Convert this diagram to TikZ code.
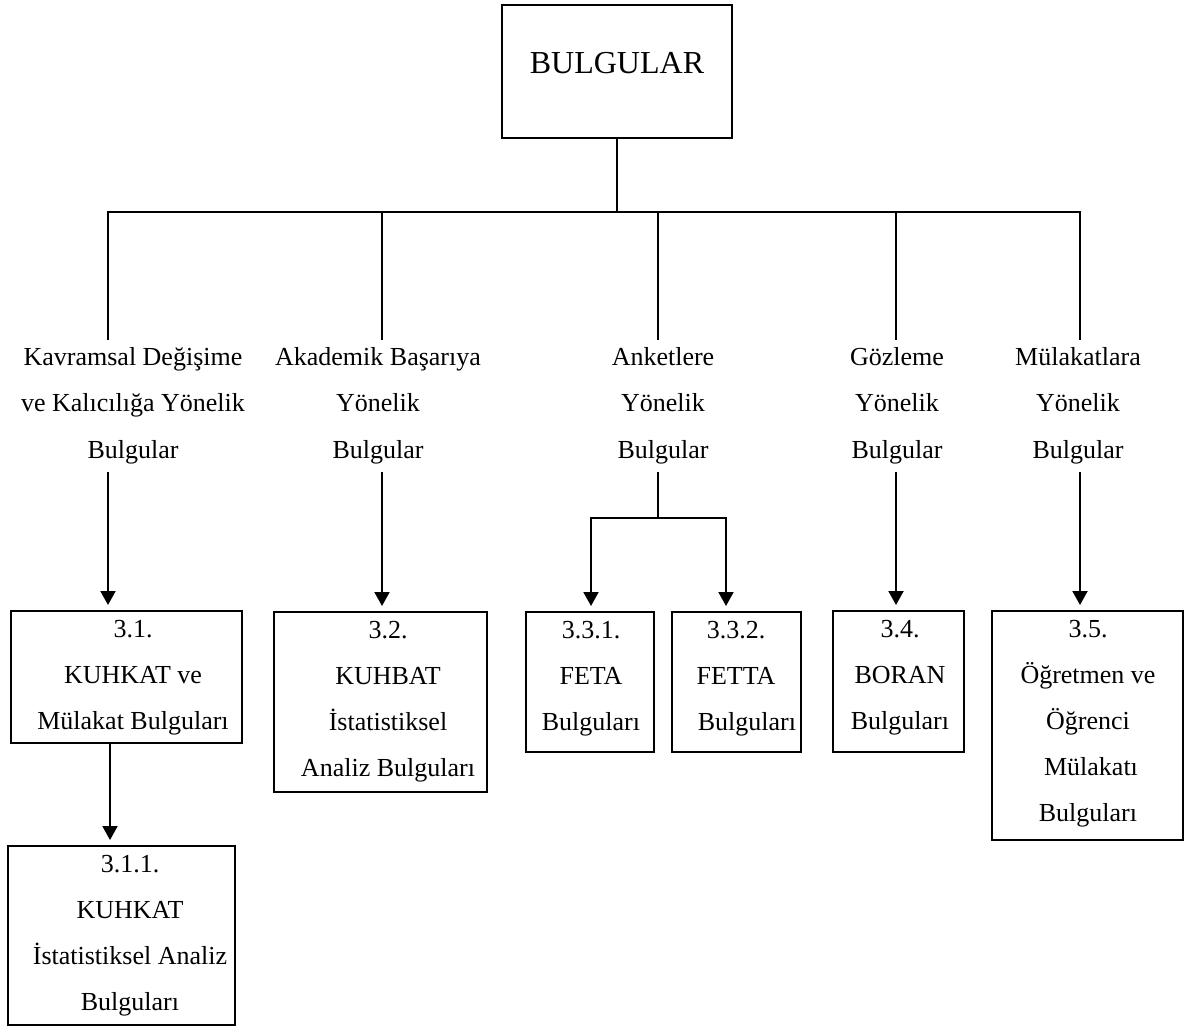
\documentclass[tikz,border=0pt]{standalone}
\usepackage{fontspec}
\setmainfont{Liberation Serif}
\usetikzlibrary{arrows.meta,calc}
\begin{document}
\begin{tikzpicture}[x=1pt,y=-1pt,
  ln/.style={line width=2pt},
  tipst/.style={Triangle[length=14pt,width=15pt]},
  arr/.style={line width=2pt,-{Triangle[length=14pt,width=15pt]},shorten >=5pt},
  arrtwo/.style={line width=2pt,{Triangle[length=14pt,width=15pt]}-{Triangle[length=14pt,width=15pt]},shorten >=5pt,shorten <=5pt},
  boxst/.style={draw,line width=2pt,inner sep=0pt},
  bt/.style={font=\fontsize{26}{46}\selectfont,align=center,inner sep=0pt,anchor=north},
  lt/.style={font=\fontsize{26}{46.5}\selectfont,align=center,inner sep=0pt,anchor=north}]
\useasboundingbox (0,0) rectangle (1184,1027);

% top box
\node[boxst,minimum width=230pt,minimum height=133pt] (top) at (617,71.5) {};
\node[font=\fontsize{32}{38}\selectfont,inner sep=0pt,anchor=base] (toptxt) at (617,74) {BULGULAR};

% bus coordinates
\coordinate (c1) at (108,212);
\coordinate (c2) at (382,212);
\coordinate (c3) at (658,212);
\coordinate (c4) at (896,212);
\coordinate (c5) at (1080,212);

% column labels
\node[lt] (lab1) at (133,332.45) {\strut Kavramsal Değişime\\\strut ve Kalıcılığa Yönelik\\\strut Bulgular};
\node[lt] (lab2) at (378,332.45) {\strut Akademik Başarıya\\\strut Yönelik\\\strut Bulgular};
\node[lt] (lab3) at (663,332.45) {\strut Anketlere\\\strut Yönelik\\\strut Bulgular};
\node[lt] (lab4) at (897,332.45) {\strut Gözleme\\\strut Yönelik\\\strut Bulgular};
\node[lt] (lab5) at (1078,332.45) {\strut Mülakatlara\\\strut Yönelik\\\strut Bulgular};

% boxes
\node[boxst,minimum width=231pt,minimum height=132pt] (b31) at (126.5,677) {};
\node[boxst,minimum width=227pt,minimum height=179pt] (b311) at (121.5,935.5) {};
\node[boxst,minimum width=213pt,minimum height=180pt] (b32) at (380.5,702) {};
\node[boxst,minimum width=128pt,minimum height=140pt] (b331) at (590,682) {};
\node[boxst,minimum width=129pt,minimum height=140pt] (b332) at (736.5,682) {};
\node[boxst,minimum width=131pt,minimum height=141pt] (b34) at (898.5,681.5) {};
\node[boxst,minimum width=191pt,minimum height=229pt] (b35) at (1087.5,725.5) {};

% box texts
\node[bt] (t31) at (133,604.8) {\strut 3.1.\\\strut KUHKAT ve\\\strut Mülakat Bulguları};
\node[bt] (t311) at (130,839.8) {\strut 3.1.1.\\\strut KUHKAT\\\strut İstatistiksel Analiz\\\strut Bulguları};
\node[bt] (t32) at (388,605.8) {\strut 3.2.\\\strut KUHBAT\\\strut İstatistiksel\\\strut Analiz Bulguları};
\node[bt] (t331) at (591,605.8) {\strut 3.3.1.\\\strut FETA\\\strut Bulguları};
\node[bt] (t332) at (736,605.8) {\strut 3.3.2.\\\strut FETTA\\\strut\hspace*{22pt}Bulguları};
\node[bt] (t34) at (900,604.8) {\strut 3.4.\\\strut BORAN\\\strut Bulguları};
\node[bt] (t35) at (1088,604.8) {\strut 3.5.\\\strut Öğretmen ve\\\strut Öğrenci\\\strut\hspace*{6pt}Mülakatı\\\strut Bulguları};

% connectors: top to bus
\draw[ln] (top.south) -- (top.south |- c1);
\draw[ln] ($(c1 |- lab1.north)+(0,7.5)$) -- (c1) -- (c5) -- ($(c5 |- lab5.north)+(0,7.5)$);
\draw[ln] (c2) -- ($(c2 |- lab2.north)+(0,7.5)$);
\draw[ln] (c3) -- ($(c3 |- lab3.north)+(0,7.5)$);
\draw[ln] (c4) -- ($(c4 |- lab4.north)+(0,7.5)$);

% arrows from labels to boxes
\draw[arr] (c1 |- lab1.south) -- (c1 |- b31.north);
\draw[arr] (c2 |- lab2.south) -- (c2 |- b32.north);
\draw[arr] (c4 |- lab4.south) -- (c4 |- b34.north);
\draw[arr] (c5 |- lab5.south) -- (c5 |- b35.north);

% split for column 3
\coordinate (j3) at (658,518);
\coordinate (s1) at (591,518);
\coordinate (s2) at (726,518);
\draw[ln] (c3 |- lab3.south) -- (j3);
\draw[arrtwo] (s1 |- b331.north) -- (s1) -- (s2) -- (s2 |- b332.north);

% 3.1 to 3.1.1
\coordinate (d1) at (110,0);
\draw[arr] (d1 |- b31.south) -- (d1 |- b311.north);
\end{tikzpicture}
\end{document}
